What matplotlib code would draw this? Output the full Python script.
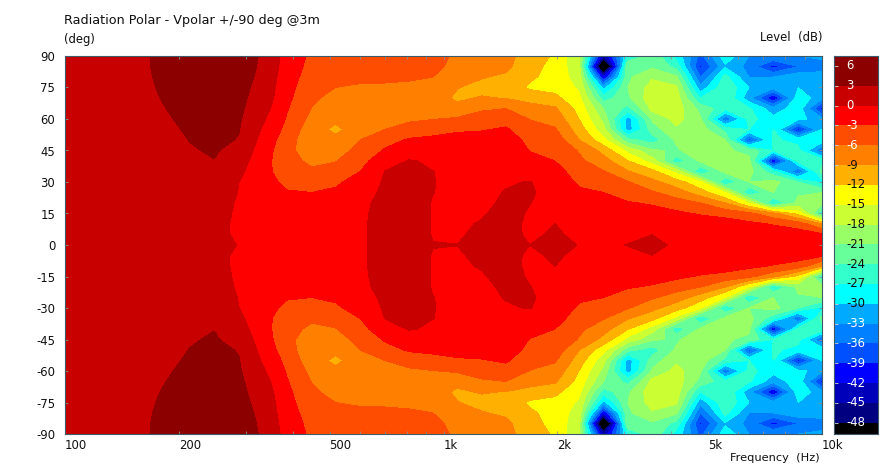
import numpy as np
import matplotlib
matplotlib.use('Agg')
import matplotlib.pyplot as plt
from matplotlib.colors import ListedColormap, BoundaryNorm

freqs = [100, 118, 137, 160, 185, 214, 248, 288, 333, 386, 449, 519, 602, 700, 811, 938,
         1087, 1260, 1460, 1690, 1971, 2285, 2647, 3070, 3560, 4120, 4770, 5550, 6410, 7430, 8650, 10000]
angles = [0, 5, 10, 15, 20, 25, 30, 35, 40, 45, 50, 55, 60, 65, 70, 75, 80, 85, 90]

# one row per frequency, 0 to 90 deg. the chart is mirrored around 0 deg
levels_upper = [
    [1.5, 1.5, 1.5, 1.5, 1.5, 1.5, 1.5, 1.6, 1.6, 1.6, 1.7, 1.7, 1.7, 1.8, 1.8, 1.8, 1.9, 1.9, 1.9],
    [1.6, 1.6, 1.6, 1.6, 1.6, 1.6, 1.7, 1.7, 1.7, 1.8, 1.8, 1.9, 1.9, 2.0, 2.0, 2.1, 2.1, 2.2, 2.2],
    [1.5, 1.5, 1.5, 1.5, 1.5, 1.6, 1.6, 1.7, 1.7, 1.8, 1.9, 2.0, 2.1, 2.2, 2.3, 2.4, 2.5, 2.5, 2.6],
    [1.4, 1.4, 1.4, 1.5, 1.5, 1.6, 1.7, 1.8, 1.9, 2.0, 2.1, 2.3, 2.4, 2.5, 2.6, 2.7, 2.75, 2.8, 2.8],
    [1.3, 1.3, 1.4, 1.4, 1.5, 1.6, 1.7, 1.9, 2.1, 2.3, 2.5, 2.7, 2.85, 3.0, 3.15, 3.25, 3.35, 3.4, 3.45],
    [1.0, 1.0, 1.1, 1.2, 1.3, 1.5, 1.8, 2.1, 2.5, 2.85, 3.05, 3.2, 3.4, 3.6, 3.7, 3.8, 3.9, 4.0, 4.0],
    [0.9, 0.8, 0.8, 0.9, 1.1, 1.5, 2.0, 2.5, 2.95, 3.2, 3.4, 3.6, 3.8, 4.0, 4.1, 4.2, 4.3, 4.3, 4.3],
    [-0.1, -0.5, -0.5, -0.4, -0.3, -0.1, 0.02, 0.5, 1.2, 2.2, 2.9, 3.1, 3.3, 3.5, 3.6, 3.7, 3.8, 3.8, 3.8],
    [-1.0, -1.1, -1.2, -1.2, -1.3, -1.4, -1.5, -1.7, -1.8, -1.6, -1.0, -0.3, 0.4, 1.2, 1.8, 2.2, 2.5, 2.7, 2.8],
    [-1.0, -1.1, -1.2, -1.5, -1.9, -2.7, -3.9, -5.2, -5.2, -5.0, -4.7, -3.9, -3.3, -2.8, -2.4, -2.2, -1.9, -1.5, -1.2],
    [-1.1, -1.2, -1.3, -1.6, -2.3, -3.0, -4.2, -5.6, -6.5, -8.1, -8.3, -7.9, -6.9, -6.1, -5.3, -4.6, -4.2, -3.9, -3.6],
    [-0.7, -0.7, -0.8, -1.0, -1.5, -2.4, -3.6, -5.1, -6.1, -7.3, -8.3, -9.6, -8.4, -8.0, -7.4, -6.0, -5.3, -4.8, -4.5],
    [-0.2, -0.2, -0.2, -0.2, -0.3, -0.6, -1.4, -3.0, -4.0, -5.0, -6.0, -7.4, -7.9, -8.2, -7.8, -6.3, -5.5, -5.2, -5.0],
    [0.5, 0.5, 0.5, 0.4, 0.4, 0.3, 0.25, 0.05, -1.0, -2.7, -4.0, -6.0, -7.5, -8.0, -7.6, -6.3, -5.6, -5.3, -5.2],
    [0.9, 0.9, 0.9, 0.9, 0.9, 0.9, 0.8, 0.5, 0.15, -1.2, -2.7, -4.6, -6.6, -7.8, -7.7, -6.6, -5.6, -5.1, -4.9],
    [0.05, -0.1, -0.1, -0.1, -0.1, 0.02, 0.05, 0.02, -0.3, -1.4, -2.5, -3.8, -6.1, -7.4, -8.0, -7.6, -6.0, -4.9, -4.3],
    [0.02, -0.2, -0.3, -0.3, -0.3, -0.3, -0.4, -0.5, -0.8, -1.3, -2.2, -3.3, -5.6, -8.3, -9.4, -8.9, -8.2, -7.4, -6.9],
    [0.6, 0.4, 0.15, -0.2, -0.5, -0.5, -0.5, -0.7, -0.9, -1.2, -1.8, -3.2, -4.8, -6.4, -8.8, -9.8, -8.8, -7.9, -7.4],
    [1.2, 1.0, 0.9, 0.7, 0.4, 0.1, -0.2, -0.5, -0.7, -1.1, -1.6, -2.6, -4.2, -6.0, -9.1, -10.0, -9.5, -8.3, -8.0],
    [0.02, -0.5, -0.5, -0.2, 0.05, 0.3, 0.1, -1.0, -2.1, -3.1, -3.8, -4.9, -6.1, -8.0, -9.9, -12.5, -11.5, -11.0, -10.6],
    [0.8, 0.4, 0.02, -0.6, -0.8, -1.0, -1.2, -1.9, -3.0, -3.6, -4.3, -5.7, -7.1, -8.6, -11.2, -13.0, -13.2, -13.0, -12.4],
    [-0.1, -0.7, -1.0, -1.3, -1.7, -2.5, -3.5, -4.5, -5.4, -6.3, -9.0, -10.6, -12.1, -13.2, -14.4, -15.5, -16.5, -17.3, -17.9],
    [-0.5, -0.8, -1.0, -1.2, -2.1, -3.0, -4.4, -5.8, -7.8, -10.0, -14.0, -17.0, -19.0, -21.0, -25.5, -31.0, -42.0, -58.0, -45.0],
    [0.1, -0.7, -1.0, -1.6, -2.7, -4.8, -5.8, -8.8, -11.8, -16.0, -23.0, -31.5, -31.5, -25.0, -21.5, -21.0, -21.5, -21.0, -27.0],
    [0.8, -0.02, -0.7, -1.6, -3.4, -5.6, -8.2, -11.0, -16.5, -20.5, -25.5, -22.5, -20.5, -17.0, -16.0, -16.5, -18.5, -21.5, -22.0],
    [-0.5, -0.6, -1.0, -2.4, -4.6, -7.5, -10.6, -16.0, -26.0, -21.5, -20.5, -18.5, -17.0, -16.5, -16.5, -17.5, -20.5, -25.0, -28.0],
    [-0.5, -0.8, -1.2, -3.3, -6.0, -10.5, -14.5, -27.0, -20.5, -19.0, -18.5, -19.5, -20.5, -22.0, -27.0, -32.0, -36.0, -39.5, -37.0],
    [-0.5, -0.9, -1.6, -4.0, -9.0, -15.0, -27.0, -20.0, -19.5, -20.5, -21.0, -25.0, -35.5, -26.0, -24.0, -24.5, -26.0, -30.5, -28.0],
    [-0.6, -1.0, -2.3, -5.2, -15.0, -27.0, -21.0, -20.0, -20.0, -22.0, -37.5, -27.0, -26.0, -26.5, -32.0, -30.0, -33.0, -34.0, -33.0],
    [-0.7, -1.2, -3.2, -8.0, -27.0, -21.0, -20.0, -26.0, -42.0, -27.0, -26.5, -27.0, -29.0, -32.0, -42.0, -32.0, -33.0, -40.0, -33.0],
    [-0.8, -1.7, -4.2, -13.0, -20.0, -21.5, -24.0, -36.0, -26.0, -26.0, -28.0, -40.0, -29.0, -28.0, -28.0, -30.0, -31.0, -36.0, -33.0],
    [-1.0, -2.5, -9.0, -26.0, -20.0, -21.0, -28.0, -23.0, -25.0, -36.0, -28.0, -30.0, -32.0, -40.0, -32.0, -31.0, -31.0, -35.0, -32.0],
]

band_edges = [-60, -48, -45, -42, -39, -36, -33, -30, -27, -24, -21, -18, -15, -12, -9, -6, -3, 0, 3, 20]
band_colors = ['#000000', '#000080', '#0000BB', '#0000FF', '#0050FF', '#0080FF', '#00AAFF', '#00FFFF', '#33FFCC',
               '#66FF99', '#99FF66', '#CCFF33', '#FFFF00', '#FFB000', '#FF8000', '#FF4D00', '#FF0000', '#C80000', '#8C0000']
bar_ticks = [6, 3, 0, -3, -6, -9, -12, -15, -18, -21, -24, -27, -30, -33, -36, -39, -42, -45, -48]
white_ticks = [6, 3, 0, -3, -6, -33, -36, -39, -42, -45, -48]

x_ticks = [100, 200, 500, 1000, 2000, 5000, 10000]
x_tick_labels = ['100', '200', '500', '1k', '2k', '5k', '10k']
x_minor = [300, 400, 600, 700, 800, 900, 3000, 4000, 6000, 7000, 8000, 9000]
y_ticks = [-90, -75, -60, -45, -30, -15, 0, 15, 30, 45, 60, 75, 90]

W, H = 892, 469
fig = plt.figure(figsize=(W / 100, H / 100), dpi=100)
ax = fig.add_axes([65 / W, 1 - 434 / H, 757 / W, 378 / H])
cax = fig.add_axes([834 / W, 1 - 434 / H, 44 / W, 378 / H])

upper = np.array(levels_upper).T
z = np.vstack([upper[:0:-1], upper])
a = np.concatenate([-np.array(angles[:0:-1]), angles])

cmap = ListedColormap(band_colors)
norm = BoundaryNorm(band_edges, cmap.N)
ax.contourf(freqs, a, z, levels=band_edges, cmap=cmap, norm=norm)
ax.set_xscale('log')
ax.set_xlim(100, 10000)
ax.set_ylim(-90, 90)

ax.set_xticks(x_ticks)
ax.set_xticklabels(x_tick_labels, ha='left')
ax.set_xticks(x_minor, minor=True)
ax.xaxis.set_minor_formatter(matplotlib.ticker.NullFormatter())
ax.set_yticks(y_ticks)
ax.set_yticklabels([str(v) for v in y_ticks])
ax.tick_params(axis='both', which='both', direction='in', top=True, right=True, length=2.5, width=0.6,
               color='#909090', labelsize=8.4, labelcolor='#101010')
ax.tick_params(axis='x', which='both', pad=3.5)
ax.tick_params(axis='y', pad=7)
for s in ax.spines.values():
    s.set_color('#3c5a6a')
    s.set_linewidth(0.8)

bar_edges = [-49.7] + band_edges[1:-1] + [7.5]
bar_z = np.array([(bar_edges[i] + bar_edges[i + 1]) / 2 for i in range(len(bar_edges) - 1)])
cax.pcolormesh([0, 1], bar_edges, bar_z[:, None], cmap=cmap, norm=norm)
cax.set_xlim(0, 1)
cax.set_ylim(-49.7, 7.5)
cax.set_xticks([])
cax.set_yticks(bar_ticks)
cax.set_yticklabels([])
cax.tick_params(axis='y', direction='in', length=3, width=0.6, color='#d0d0d0')
for s in cax.spines.values():
    s.set_color('#3c5a6a')
    s.set_linewidth(0.8)
for v in bar_ticks:
    cax.text(0.27, v, str(v), ha='left', va='center', fontsize=8.4,
             color='white' if v in white_ticks else '#101010')

fig.text(64 / W, 1 - 20.5 / H, 'Radiation Polar - Vpolar +/-90 deg @3m', fontsize=9.2, va='center', color='#101010')
fig.text(64 / W, 1 - 39 / H, '(deg)', fontsize=8.4, va='center', color='#101010')
fig.text(822 / W, 1 - 38 / H, 'Level  (dB)', fontsize=8.4, va='center', ha='right', color='#101010')
fig.text(820 / W, 1 - 458 / H, 'Frequency  (Hz)', fontsize=8.2, va='center', ha='right', color='#101010')

fig.savefig('out.png', dpi=100)
